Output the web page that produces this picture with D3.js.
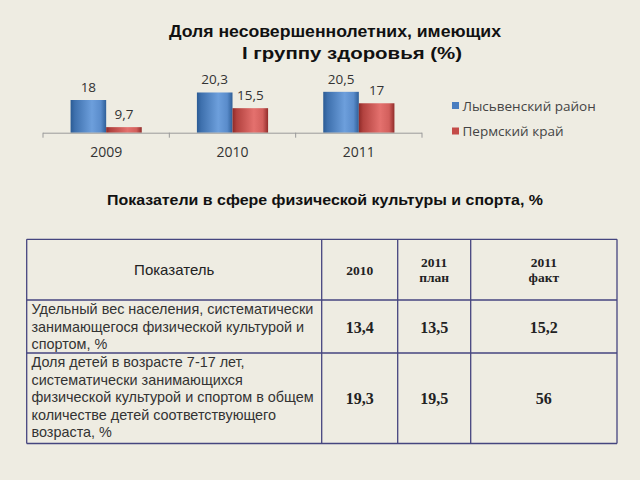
<!DOCTYPE html>
<html>
<head>
<meta charset="utf-8">
<script src="https://cdn.jsdelivr.net/npm/d3@7"></script>
<style>
html,body{margin:0;padding:0;background:#eeece2;}
svg{display:block;}
</style>
</head>
<body>
<svg id="chart" width="640" height="480"></svg>
<script>
// ---- chart data ----
const years = ["2009", "2010", "2011"];
const seriesNames = ["Лысьвенский район", "Пермский край"];
const lysvaValues = [18, 20.3, 20.5];
const permValues = [9.7, 15.5, 17];
const valueLabels = [["18", "9,7"], ["20,3", "15,5"], ["20,5", "17"]];
const chartTitle = ["Доля несовершеннолетних, имеющих", "I группу здоровья (%)"];

// ---- table data ----
const tableTitle = "Показатели в сфере физической культуры и спорта, %";
const headerCols = [["Показатель"], ["2010"], ["2011", "план"], ["2011", "факт"]];
const indicatorLines = [
  ["Удельный вес населения, систематически", "занимающегося физической культурой и", "спортом, %"],
  ["Доля детей в возрасте 7-17 лет,", "систематически занимающихся", "физической культурой и спортом в общем", "количестве детей соответствующего", "возраста, %"]
];
const values2010 = ["13,4", "19,3"];
const values2011Plan = ["13,5", "19,5"];
const values2011Fact = ["15,2", "56"];

const svg = d3.select("#chart");
svg.append("rect").attr("width", 640).attr("height", 480).attr("fill", "#eeece2");

const defs = svg.append("defs");
function grad(id, stops) {
  const g = defs.append("linearGradient").attr("id", id).attr("x1", "0").attr("x2", "1").attr("y1", "0").attr("y2", "0");
  stops.forEach(s => g.append("stop").attr("offset", s[0]).attr("stop-color", s[1]));
}
grad("gBlue", [[0, "#2b5b94"], [0.12, "#3e70ad"], [0.6, "#6d9fdc"], [0.85, "#5a8ccb"], [1, "#2f5f98"]]);
grad("gRed", [[0, "#8e2a28"], [0.12, "#b2423f"], [0.6, "#e4716e"], [0.85, "#d25f5c"], [1, "#922d2b"]]);
const fills = ["url(#gBlue)", "url(#gRed)"];
const legendColors = ["#4a7ec0", "#c44b48"];

// ---- title ----
const titleFont = "'Liberation Sans', Arial, sans-serif";
svg.append("text").attr("x", 335).attr("y", 36.5).attr("text-anchor", "middle")
  .attr("font-family", titleFont).attr("font-weight", "bold").attr("font-size", 16).attr("fill", "#111")
  .attr("textLength", 332).attr("lengthAdjust", "spacingAndGlyphs")
  .text(chartTitle[0]);
svg.append("text").attr("x", 352).attr("y", 58.5).attr("text-anchor", "middle")
  .attr("font-family", titleFont).attr("font-weight", "bold").attr("font-size", 16).attr("fill", "#111")
  .attr("textLength", 220).attr("lengthAdjust", "spacingAndGlyphs")
  .text(chartTitle[1]);

// ---- scales ----
const x0 = d3.scaleBand().domain(years).range([43, 422]).padding(0);
const x1 = d3.scaleBand().domain(seriesNames).range([0, x0.bandwidth()]).paddingInner(0).paddingOuter(0.775);
const y = d3.scaleLinear().domain([8, 22]).range([132.7, 132.7 - 14 * 3.27]);

const data = years.map((yr, i) => ({ year: yr, vals: [lysvaValues[i], permValues[i]], labels: valueLabels[i] }));

const groups = svg.append("g").selectAll("g").data(data).join("g")
  .attr("transform", d => `translate(${x0(d.year)},0)`);
groups.selectAll("rect").data(d => d.vals.map((v, j) => ({ v, j, s: seriesNames[j] }))).join("rect")
  .attr("x", d => x1(d.s)).attr("width", x1.bandwidth())
  .attr("y", d => y(d.v)).attr("height", d => y.range()[0] - y(d.v))
  .attr("fill", d => fills[d.j]);
groups.selectAll("text").data(d => d.vals.map((v, j) => ({ v, j, s: seriesNames[j], lab: d.labels[j] }))).join("text")
  .attr("x", d => x1(d.s) + x1.bandwidth() / 2).attr("y", d => y(d.v) - 8)
  .attr("text-anchor", "middle").attr("font-family", "'Open Sans', sans-serif").attr("font-size", 13.5).attr("fill", "#333")
  .text(d => d.lab);

// ---- axis ----
const axisG = svg.append("g").attr("transform", `translate(0,${y.range()[0]})`);
const xAxis = d3.axisBottom(x0).tickSize(0).tickPadding(14);
axisG.call(xAxis);
axisG.select(".domain").attr("stroke", "#9a9a9a").attr("d", `M43,0.5H422`);
axisG.selectAll(".tick text").attr("font-family", "'Open Sans', sans-serif").attr("font-size", 14).attr("fill", "#333");
const boundaries = years.map(yr => x0(yr)).concat([x0(years[years.length - 1]) + x0.bandwidth()]);
axisG.selectAll(".bnd").data(boundaries).join("line").attr("class", "bnd")
  .attr("x1", d => d).attr("x2", d => d).attr("y1", 0).attr("y2", 5).attr("stroke", "#9a9a9a");

// ---- legend ----
const legend = svg.append("g");
seriesNames.forEach((name, i) => {
  const ly = 105.5 + i * 25.5;
  legend.append("rect").attr("x", 452).attr("y", ly - 3.5).attr("width", 7).attr("height", 7).attr("fill", legendColors[i]);
  legend.append("text").attr("x", 462.5).attr("y", ly + 5).attr("font-family", "'Open Sans', sans-serif")
    .attr("font-size", 13.5).attr("fill", "#444").text(name);
});

// ---- table title ----
svg.append("text").attr("x", 325).attr("y", 205).attr("text-anchor", "middle")
  .attr("font-family", titleFont).attr("font-weight", "bold").attr("font-size", 14.5).attr("fill", "#111")
  .attr("textLength", 436).attr("lengthAdjust", "spacingAndGlyphs")
  .text(tableTitle);

// ---- table ----
const colX = [26.7, 321.7, 397.7, 470.7, 617];
const rowY = [239.3, 300, 353, 443.5];
const tbl = svg.append("g");
const serif = "'Liberation Serif', 'Times New Roman', serif";
const sans = "'Liberation Sans', Arial, sans-serif";

// header
headerCols.forEach((lines, c) => {
  const cx = (colX[c] + colX[c + 1]) / 2;
  const cy = (rowY[0] + rowY[1]) / 2;
  const lh = 15.6;
  lines.forEach((t, k) => {
    tbl.append("text").attr("x", cx).attr("y", cy + (k - (lines.length - 1) / 2) * lh + 5)
      .attr("text-anchor", "middle")
      .attr("font-family", c === 0 ? sans : serif).attr("font-weight", c === 0 ? "normal" : "bold")
      .attr("font-size", c === 0 ? 15 : 13.5).attr("fill", "#222").text(t);
  });
});

// body rows
indicatorLines.forEach((lines, r) => {
  const top = rowY[r + 1];
  lines.forEach((t, k) => {
    tbl.append("text").attr("x", 31.5).attr("y", top + 14 + k * 17.6)
      .attr("font-family", sans).attr("font-size", 14.4).attr("fill", "#333").text(t);
  });
  const cy = (rowY[r + 1] + rowY[r + 2]) / 2;
  [values2010[r], values2011Plan[r], values2011Fact[r]].forEach((v, c) => {
    tbl.append("text").attr("x", (colX[c + 1] + colX[c + 2]) / 2).attr("y", cy + 6)
      .attr("text-anchor", "middle").attr("font-family", serif).attr("font-weight", "bold")
      .attr("font-size", 16).attr("fill", "#222").text(v);
  });
});

// grid lines
const gridColor = "#45457f";
rowY.forEach(yy => tbl.append("line").attr("x1", colX[0]).attr("x2", colX[colX.length - 1]).attr("y1", yy).attr("y2", yy)
  .attr("stroke", gridColor).attr("stroke-width", 1.3));
colX.forEach(xx => tbl.append("line").attr("x1", xx).attr("x2", xx).attr("y1", rowY[0]).attr("y2", rowY[rowY.length - 1])
  .attr("stroke", gridColor).attr("stroke-width", 1.3));
</script>
</body>
</html>
